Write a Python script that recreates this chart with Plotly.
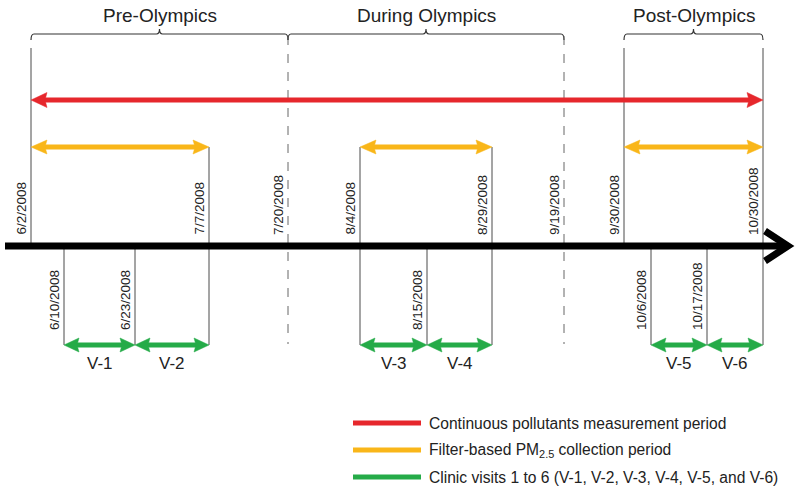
import plotly.graph_objects as go

# ---------------- data ----------------
event_dates = ["6/2/2008", "6/10/2008", "6/23/2008", "7/7/2008", "7/20/2008", "8/4/2008",
               "8/15/2008", "8/29/2008", "9/19/2008", "9/30/2008", "10/6/2008", "10/17/2008",
               "10/30/2008"]
# schematic (non-linear) position of each date along the time axis
event_pos = [31, 64, 135, 209, 288, 360, 427, 492, 564, 624, 651, 707, 763]

phase_names = ["Pre-Olympics", "During Olympics", "Post-Olympics"]
phase_start = ["6/2/2008", "7/20/2008", "9/30/2008"]
phase_end = ["7/20/2008", "9/19/2008", "10/30/2008"]

continuous_start = ["6/2/2008"]
continuous_end = ["10/30/2008"]

filter_start = ["6/2/2008", "8/4/2008", "9/30/2008"]
filter_end = ["7/7/2008", "8/29/2008", "10/30/2008"]

visit_labels = ["V-1", "V-2", "V-3", "V-4", "V-5", "V-6"]
visit_start = ["6/10/2008", "6/23/2008", "8/4/2008", "8/15/2008", "10/6/2008", "10/17/2008"]
visit_end = ["6/23/2008", "7/7/2008", "8/15/2008", "8/29/2008", "10/17/2008", "10/30/2008"]

legend_labels = ["Continuous pollutants measurement period",
                 "Filter-based PM<sub>2.5</sub> collection period",
                 "Clinic visits 1 to 6 (V-1, V-2, V-3, V-4, V-5, and V-6)"]

# ---------------- styling ----------------
RED = "#e6272c"
YELLOW = "#f9b619"
GREEN = "#25ab48"
LINE = "#4a4a4a"
FONT = "Liberation Sans, Arial, sans-serif"

Y_TITLE = 15.5
Y_BRACKET = 34
Y_TOP = 48
Y_RED = 100
Y_FILTER = 147
Y_AXIS = 246
Y_VISIT = 345
Y_VLABEL = 363

pos = dict(zip(event_dates, event_pos))
shapes = []
annotations = []


def arrow(x0, x1, y, color, head_len=15, head_h=14, shaft=5):
    shapes.append(dict(type="line", xref="x", yref="y", x0=x0 + head_len - 3, x1=x1 - head_len + 3,
                       y0=y, y1=y, line=dict(color=color, width=shaft), layer="above"))
    for tip, d in ((x0, 1), (x1, -1)):
        b = tip + d * head_len
        n = tip + d * (head_len - 2)
        path = (f"M {tip},{y} L {b},{y - head_h / 2} L {n},{y} L {b},{y + head_h / 2} Z")
        shapes.append(dict(type="path", xref="x", yref="y", path=path, fillcolor=color,
                           line=dict(color=color, width=0.5), layer="above"))


# phase brackets and titles
for name, s, e in zip(phase_names, phase_start, phase_end):
    x0, x1 = pos[s], pos[e]
    xc = (x0 + x1) / 2
    yb = Y_BRACKET
    path = (f"M {x0},{yb + 6} Q {x0},{yb} {x0 + 3},{yb} L {xc - 3},{yb} Q {xc},{yb} {xc},{yb - 5} "
            f"Q {xc},{yb} {xc + 3},{yb} L {x1 - 3},{yb} Q {x1},{yb} {x1},{yb + 6}")
    shapes.append(dict(type="path", xref="x", yref="y", path=path, line=dict(color="#333", width=1.2)))
    annotations.append(dict(x=xc, y=Y_TITLE, xref="x", yref="y", text=name, showarrow=False,
                            xanchor="center", yanchor="middle", font=dict(size=19, color="#222")))

# vertical date lines and date labels
bounds = set(phase_start + phase_end)
filters = set(filter_start + filter_end)
visits = set(visit_start + visit_end)
for d in event_dates:
    x = pos[d]
    if d in bounds and d not in filters:
        shapes.append(dict(type="line", xref="x", yref="y", x0=x, x1=x, y0=Y_BRACKET + 2, y1=Y_VISIT - 1,
                           line=dict(color="#666", width=1, dash="dash")))
        above = True
    else:
        top = Y_TOP if d in bounds else (Y_FILTER if d in filters else Y_AXIS)
        bottom = Y_VISIT if d in visits else Y_AXIS
        shapes.append(dict(type="line", xref="x", yref="y", x0=x, x1=x, y0=top, y1=bottom,
                           line=dict(color=LINE, width=1)))
        above = top < Y_AXIS
    annotations.append(dict(x=x - 10, y=(Y_AXIS - 9) if above else (Y_AXIS + 86), xref="x", yref="y",
                            text=d, textangle=-90, showarrow=False, xanchor="center", yanchor="bottom",
                            font=dict(size=13.5, color="#222")))

# main time axis
shapes.append(dict(type="line", xref="x", yref="y", x0=5, x1=786, y0=Y_AXIS, y1=Y_AXIS,
                   line=dict(color="black", width=7), layer="above"))
shapes.append(dict(type="path", xref="x", yref="y", path=f"M 765,{Y_AXIS - 15} L 788,{Y_AXIS} L 765,{Y_AXIS + 15}",
                   line=dict(color="black", width=7), layer="above"))

# period arrows
for s, e in zip(continuous_start, continuous_end):
    arrow(pos[s], pos[e], Y_RED, RED, head_len=16, head_h=15)
for s, e in zip(filter_start, filter_end):
    arrow(pos[s], pos[e], Y_FILTER, YELLOW, head_len=16, head_h=14)
for lab, s, e in zip(visit_labels, visit_start, visit_end):
    arrow(pos[s], pos[e], Y_VISIT, GREEN, head_len=15, head_h=14)
    annotations.append(dict(x=(pos[s] + pos[e]) / 2, y=Y_VLABEL, xref="x", yref="y", text=lab,
                            showarrow=False, xanchor="center", yanchor="middle",
                            font=dict(size=17, color="#222")))

# legend
for i, (lab, col) in enumerate(zip(legend_labels, [RED, YELLOW, GREEN])):
    y = 423 + i * 27
    shapes.append(dict(type="line", xref="x", yref="y", x0=353, x1=421, y0=y, y1=y,
                       line=dict(color=col, width=5)))
    annotations.append(dict(x=427, y=y, xref="x", yref="y", text=lab, showarrow=False,
                            xanchor="left", yanchor="middle", font=dict(size=15.6, color="#222")))

fig = go.Figure()
fig.add_trace(go.Scatter(x=[0, 800], y=[0, 493], mode="markers", marker=dict(opacity=0),
                         hoverinfo="skip", showlegend=False))
fig.update_layout(
    width=800, height=493,
    margin=dict(l=0, r=0, t=0, b=0),
    paper_bgcolor="white", plot_bgcolor="white",
    font=dict(family=FONT),
    xaxis=dict(range=[0, 800], visible=False, fixedrange=True),
    yaxis=dict(range=[493, 0], visible=False, fixedrange=True),
    shapes=shapes, annotations=annotations, showlegend=False,
    hovermode=False,
)
# remove the page's default body margin so the 800x493 figure fills the window exactly
fig.write_html("out.html", config=dict(displayModeBar=False, staticPlot=True),
               post_script="document.body.style.margin='0';document.body.style.overflow='hidden';")
